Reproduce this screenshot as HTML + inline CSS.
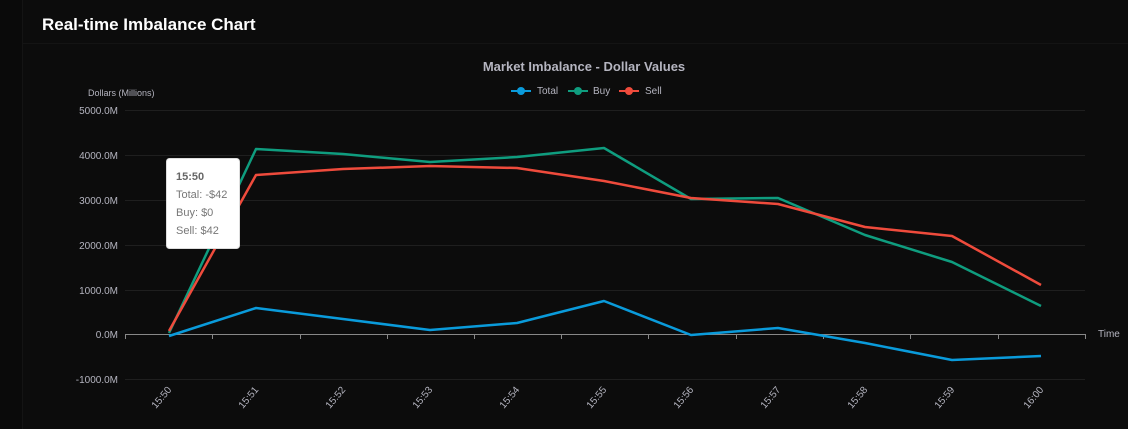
<!DOCTYPE html>
<html><head><style>
body{margin:0;background:#0a0a0a;width:1128px;height:429px;overflow:hidden;font-family:"Liberation Sans",sans-serif;}
.p{position:absolute;left:22px;top:0;width:1106px;height:429px;background:#0c0c0c;border-left:1px solid #141414;}
.t{position:absolute;left:42px;top:15px;color:#fff;font-size:17px;font-weight:bold;}
</style></head><body>
<div class="p"></div>
<div style="position:absolute;left:22px;top:43px;width:1106px;height:1px;background:#141414"></div>
<div class="t">Real-time Imbalance Chart</div>
<svg width="1128" height="429" style="position:absolute;left:0;top:0" font-family="Liberation Sans, sans-serif">
<text x="584" y="71" fill="#b5b5c0" font-size="13" font-weight="bold" text-anchor="middle">Market Imbalance - Dollar Values</text>
<g font-size="10" fill="#b5b5c0">
<line x1="511" y1="91" x2="531" y2="91" stroke="#0a9bdb" stroke-width="2"/><circle cx="521" cy="91" r="4" fill="#0a9bdb"/><text x="537" y="94">Total</text>
<line x1="568" y1="91" x2="588" y2="91" stroke="#0f9d7f" stroke-width="2"/><circle cx="578" cy="91" r="4" fill="#0f9d7f"/><text x="593" y="94">Buy</text>
<line x1="619" y1="91" x2="639" y2="91" stroke="#ef4b3c" stroke-width="2"/><circle cx="629" cy="91" r="4" fill="#ef4b3c"/><text x="645" y="94">Sell</text>
</g>
<text x="88" y="96" fill="#b5b5c0" font-size="9">Dollars (Millions)</text>
<g stroke="#1f1f1f" stroke-width="1">
<line x1="125" y1="110.5" x2="1085" y2="110.5"/><line x1="125" y1="155.5" x2="1085" y2="155.5"/><line x1="125" y1="200.5" x2="1085" y2="200.5"/><line x1="125" y1="245.5" x2="1085" y2="245.5"/><line x1="125" y1="290.5" x2="1085" y2="290.5"/><line x1="125" y1="379.5" x2="1085" y2="379.5"/>
</g>
<g fill="#b5b5c0" font-size="10" text-anchor="end">
<text x="118" y="114">5000.0M</text><text x="118" y="159">4000.0M</text><text x="118" y="204">3000.0M</text><text x="118" y="249">2000.0M</text><text x="118" y="294">1000.0M</text><text x="118" y="338">0.0M</text><text x="118" y="383">-1000.0M</text>
</g>
<line x1="125" y1="334.5" x2="1085" y2="334.5" stroke="#888" stroke-width="1"/>
<g stroke="#888">
<line x1="125.5" y1="334" x2="125.5" y2="339"/><line x1="212.5" y1="334" x2="212.5" y2="339"/><line x1="300.5" y1="334" x2="300.5" y2="339"/><line x1="387.5" y1="334" x2="387.5" y2="339"/><line x1="474.5" y1="334" x2="474.5" y2="339"/><line x1="561.5" y1="334" x2="561.5" y2="339"/><line x1="648.5" y1="334" x2="648.5" y2="339"/><line x1="736.5" y1="334" x2="736.5" y2="339"/><line x1="823.5" y1="334" x2="823.5" y2="339"/><line x1="910.5" y1="334" x2="910.5" y2="339"/><line x1="998.5" y1="334" x2="998.5" y2="339"/><line x1="1085.5" y1="334" x2="1085.5" y2="339"/>
</g>
<text x="1098" y="337" fill="#b5b5c0" font-size="10">Time</text>
<g fill="#b5b5c0" font-size="10" text-anchor="end">
<text transform="translate(172,390) rotate(-50)">15:50</text>
<text transform="translate(259,390) rotate(-50)">15:51</text>
<text transform="translate(346,390) rotate(-50)">15:52</text>
<text transform="translate(433,390) rotate(-50)">15:53</text>
<text transform="translate(520,390) rotate(-50)">15:54</text>
<text transform="translate(607,390) rotate(-50)">15:55</text>
<text transform="translate(694,390) rotate(-50)">15:56</text>
<text transform="translate(781,390) rotate(-50)">15:57</text>
<text transform="translate(868,390) rotate(-50)">15:58</text>
<text transform="translate(955,390) rotate(-50)">15:59</text>
<text transform="translate(1044,390) rotate(-50)">16:00</text>
</g>
<g fill="none" stroke-width="2.5" stroke-linejoin="round">
<polyline stroke="#0f9d7f" points="169,333 256,149 343,154 430,162 517,157 604,148 691,199 778,198 865,235 952,262 1041,306"/>
<polyline stroke="#ef4b3c" points="169,331 256,175 343,169 430,166 517,168 604,181 691,198 778,204 865,227 952,236 1041,285"/>
<polyline stroke="#0a9bdb" points="169,336 256,308 343,319 430,330 517,323 604,301 691,335 778,328 865,343 952,360 1041,356"/>
</g>
<rect x="166.5" y="158.5" width="73" height="90" rx="3" fill="#fff" stroke="#ddd"/>
<g font-size="11" fill="#777">
<text x="176" y="180" font-weight="bold" fill="#666">15:50</text>
<text x="176" y="198">Total: -$42</text>
<text x="176" y="216">Buy: $0</text>
<text x="176" y="234">Sell: $42</text>
</g>
</svg>
</body></html>
